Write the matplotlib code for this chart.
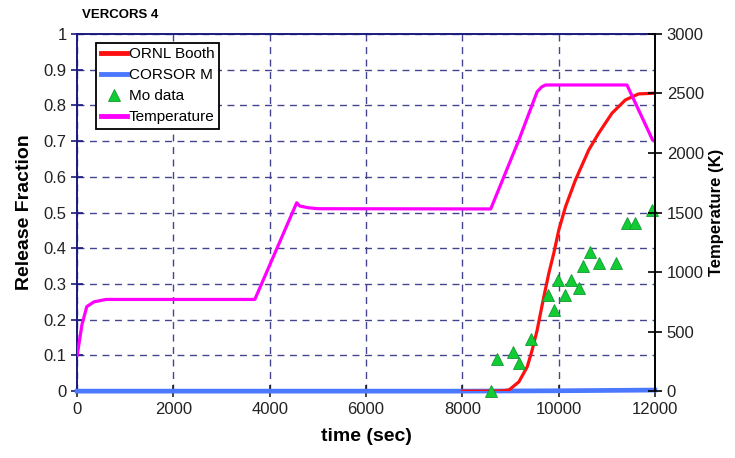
import numpy as np
import matplotlib
matplotlib.use('Agg')
import matplotlib.pyplot as plt

plt.rcParams['font.family'] = ['Liberation Sans', 'DejaVu Sans']

# ORNL Booth release fraction
ornl_t = [8000, 8500, 8800, 8968, 9175, 9348, 9451, 9555, 9624, 9693, 9797, 9900,
          10004, 10143, 10350, 10626, 10833, 11109, 11386, 11662, 12000]
ornl_f = [0.0, 0.0, 0.0005, 0.003, 0.026, 0.068, 0.115, 0.171, 0.218, 0.264, 0.33, 0.386,
          0.451, 0.516, 0.591, 0.675, 0.722, 0.778, 0.815, 0.832, 0.834]

# CORSOR M release fraction
corsor_t = [0, 8000, 10000, 12000]
corsor_f = [0.0, 0.0, 0.001, 0.003]

# Mo measured data
mo_t = [8600, 8720, 9050, 9180, 9420, 9790, 9910, 9990, 10140, 10250, 10430, 10500,
        10650, 10830, 11190, 11430, 11590, 11950]
mo_f = [0.0, 0.09, 0.11, 0.08, 0.147, 0.268, 0.228, 0.31, 0.27, 0.31, 0.288, 0.35,
        0.39, 0.36, 0.36, 0.47, 0.47, 0.507]

# Temperature history (K)
temp_t = [0, 100, 200, 350, 600, 3690, 4560, 4620, 4800, 5000, 8590, 9175, 9555,
          9650, 9728, 11420, 11952, 12000]
temp_k = [300, 560, 710, 750, 770, 770, 1582, 1555, 1540, 1532, 1530, 2109, 2515,
          2555, 2571, 2571, 2109, 2100]

navy = '#1a1a80'
grid_c = '#45458f'

fig, ax = plt.subplots(figsize=(7.35, 4.58), dpi=100)
fig.subplots_adjust(left=0.105, right=0.891, bottom=0.146, top=0.926)

l_corsor, = ax.plot(corsor_t, corsor_f, color='#4a78ff', lw=3.4, label='CORSOR M',
                    zorder=3, clip_on=False)
l_ornl, = ax.plot(ornl_t, ornl_f, color='#ff1010', lw=2.3, label='ORNL Booth', zorder=4)
l_mo, = ax.plot(mo_t, mo_f, linestyle='none', marker='^', markersize=9,
                markerfacecolor='#11cc33', markeredgecolor='#119933', markeredgewidth=0.6,
                label='Mo data', zorder=5, clip_on=False)

ax.set_xlim(0, 12000)
ax.set_ylim(0, 1)
ax.set_xticks(np.arange(0, 12001, 2000))
ax.set_yticks(np.arange(0, 1.01, 0.1))
ax.set_yticklabels(['0', '0.1', '0.2', '0.3', '0.4', '0.5', '0.6', '0.7', '0.8', '0.9', '1'])
ax.grid(True, linestyle=(0, (5, 4)), color=grid_c, lw=1.0)
ax.tick_params(axis='both', labelsize=12, colors='#222222', direction='inout', length=8,
               width=1.2)
ax.tick_params(axis='y', color=navy)
for s in ['left', 'top', 'bottom']:
    ax.spines[s].set_color(navy)
    ax.spines[s].set_linewidth(1.4)
ax.spines['right'].set_visible(False)

ax.set_xlabel('time (sec)', fontsize=14, fontweight='bold', labelpad=8)
ax.set_ylabel('Release Fraction', fontsize=14, fontweight='bold', labelpad=8)
fig.text(0.112, 0.955, 'VERCORS 4', fontsize=9.5, fontweight='bold', ha='left', va='bottom')

ax2 = ax.twinx()
l_temp, = ax2.plot(temp_t, temp_k, color='#ff00ff', lw=2.3, label='Temperature')
ax2.set_ylim(0, 3000)
ax2.set_yticks(np.arange(0, 3001, 500))
ax2.tick_params(axis='y', labelsize=12, colors='#222222', direction='inout', length=10,
                width=1.2)
ax2.tick_params(axis='y', color='black')
ax2.spines['right'].set_color('black')
ax2.spines['right'].set_linewidth(1.4)
for s in ['left', 'top', 'bottom']:
    ax2.spines[s].set_visible(False)
ax2.set_ylabel('Temperature (K)', fontsize=12, fontweight='bold', labelpad=4)

leg = ax2.legend(handles=[l_ornl, l_corsor, l_mo, l_temp], loc='upper left',
                 bbox_to_anchor=(0.033, 0.975), fontsize=11, frameon=True, fancybox=False,
                 shadow=False, handlelength=1.7, handletextpad=0.15, borderpad=0.3,
                 labelspacing=0.45, borderaxespad=0)
leg.get_frame().set_edgecolor('black')
leg.get_frame().set_linewidth(1.3)
leg.get_frame().set_alpha(1)
for h in leg.legend_handles:
    if h.get_linestyle() != 'None':
        h.set_linewidth(3.5)

fig.savefig('out.png', dpi=100)
